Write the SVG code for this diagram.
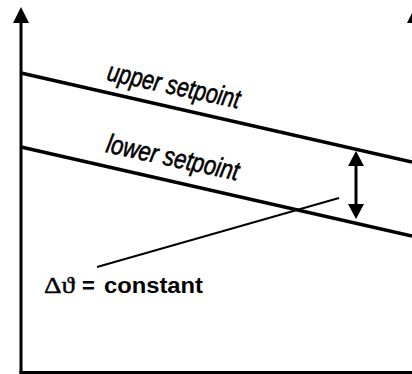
<svg xmlns="http://www.w3.org/2000/svg" width="412" height="374" viewBox="0 0 412 374">
<style>
.ax{stroke:#000;stroke-width:3;fill:none}
.ln{stroke:#000;stroke-width:3.5;fill:none}
.lead{stroke:#000;stroke-width:2;fill:none}
.lbl{font-family:"Liberation Sans",Arial,sans-serif;font-style:italic;font-size:27px;fill:#000;stroke:#000;stroke-width:0.6}
.big{font-family:"Liberation Sans",Arial,sans-serif;font-weight:bold;font-size:22px;fill:#000}
.sym{font-family:"Liberation Serif","DejaVu Serif",serif;font-size:23px;fill:#000;stroke:#000;stroke-width:0.4}
.ah{fill:#000}
</style>
<rect width="412" height="374" fill="#fff"/>
<g id="axes">
<line class="ax" x1="21" y1="20" x2="21" y2="374"/>
<line class="ax" x1="19.5" y1="372.5" x2="412" y2="372.5"/>
<polygon class="ah" points="21,7 13,23 29,23"/>
<polygon class="ah" points="415,7 407,23 423,23"/>
</g>
<g id="upper">
<line class="ln" x1="21" y1="73" x2="412" y2="162"/>
<text class="lbl" transform="translate(106,80) rotate(12.2)" textLength="135" lengthAdjust="spacingAndGlyphs">upper setpoint</text>
</g>
<g id="lower">
<line class="ln" x1="21" y1="147" x2="412" y2="236"/>
<text class="lbl" transform="translate(105,152) rotate(12.2)" textLength="135" lengthAdjust="spacingAndGlyphs">lower setpoint</text>
</g>
<g id="connectors">
<line class="ax" x1="356" y1="160" x2="356" y2="208"/>
<polygon class="ah" points="356,151 348,166 364,166"/>
<polygon class="ah" points="356,219 348,204 364,204"/>
<line class="lead" x1="97" y1="267" x2="339" y2="198"/>
</g>
<g id="label">
<text class="sym" x="44" y="293" textLength="31" lengthAdjust="spacingAndGlyphs">Δϑ</text>
<text class="big" x="82" y="293">=</text>
<text class="big" x="104" y="293" textLength="99" lengthAdjust="spacingAndGlyphs">constant</text>
</g>
</svg>
